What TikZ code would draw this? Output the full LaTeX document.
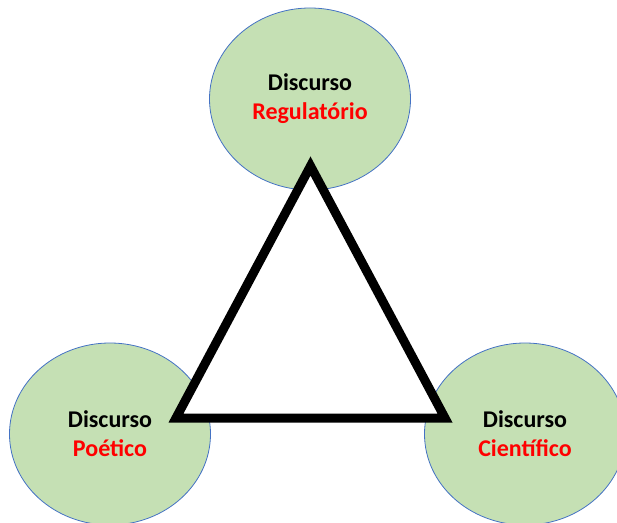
\documentclass[tikz,border=0pt]{standalone}
\usepackage{fontspec}
\setmainfont{Carlito}
\usepackage{tikz}
\usetikzlibrary{shapes.geometric}
\definecolor{Disc_fill}{RGB}{197, 224, 180}
\definecolor{Disc_edge}{RGB}{68, 114, 196}
\definecolor{Disc_red}{RGB}{255, 0, 0}

\begin{document}
\begin{tikzpicture}[x=1pt, y=1pt,
    disc/.style={ellipse, draw=Disc_edge, line width=0.8pt, fill=Disc_fill,
        minimum width=201pt, minimum height=182pt, inner sep=0pt,
        align=center, font=\fontsize{24}{29}\selectfont\bfseries},
    tri/.style={line width=9pt, miter limit=10, fill=white}]
    %% Background
    \useasboundingbox (0,0) rectangle (617,522);

    %% Discursos
    \node[disc] (regul) at (310,423) {Discurso\\\textcolor{Disc_red}{Regulatório}};
    \node[disc] (poet) at (110,88) {Discurso\\\textcolor{Disc_red}{Poético}};
    \node[disc] (cient) at (525,88) {Discurso\\\textcolor{Disc_red}{Científico}};

    %% Triangle
    \coordinate (apex) at (310.5,356);
    \coordinate (left) at (176,104);
    \coordinate (right) at (445,104);
    \draw[tri] (apex) -- (left) -- (right) -- cycle;

\end{tikzpicture}
\end{document}
